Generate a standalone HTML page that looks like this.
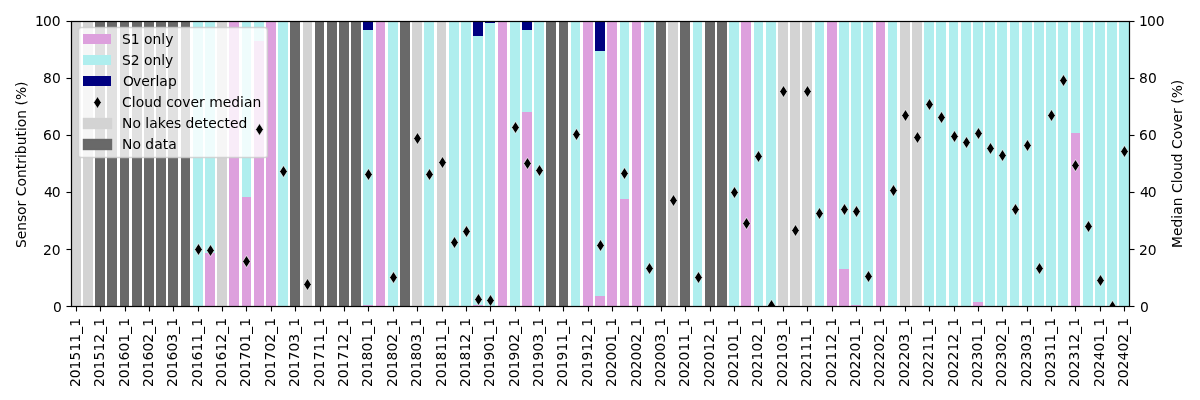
<!DOCTYPE html>
<html lang="en">
<head>
<meta charset="utf-8">
<title>Sensor contribution and cloud cover</title>
<style>
html,body{margin:0;padding:0;background:#fff;overflow:hidden}
svg{display:block}
text{white-space:pre}
</style>
</head>
<body>
<svg width="1200" height="400" viewBox="0 0 1200 400">
<rect width="1200" height="400" fill="#fff"/>
<g shape-rendering="crispEdges">
<rect x="205" y="253" width="10" height="53" fill="#dda0dd"/>
<rect x="229" y="21" width="10" height="285" fill="#dda0dd"/>
<rect x="242" y="197" width="9" height="109" fill="#dda0dd"/>
<rect x="254" y="41" width="10" height="265" fill="#dda0dd"/>
<rect x="266" y="21" width="10" height="285" fill="#dda0dd"/>
<rect x="363" y="305" width="10" height="1" fill="#dda0dd"/>
<rect x="376" y="21" width="9" height="285" fill="#dda0dd"/>
<rect x="473" y="305" width="10" height="1" fill="#dda0dd"/>
<rect x="498" y="21" width="9" height="285" fill="#dda0dd"/>
<rect x="522" y="112" width="10" height="194" fill="#dda0dd"/>
<rect x="583" y="21" width="10" height="285" fill="#dda0dd"/>
<rect x="595" y="296" width="10" height="10" fill="#dda0dd"/>
<rect x="607" y="21" width="10" height="285" fill="#dda0dd"/>
<rect x="620" y="199" width="9" height="107" fill="#dda0dd"/>
<rect x="632" y="21" width="9" height="285" fill="#dda0dd"/>
<rect x="741" y="21" width="10" height="285" fill="#dda0dd"/>
<rect x="827" y="21" width="10" height="285" fill="#dda0dd"/>
<rect x="839" y="269" width="10" height="37" fill="#dda0dd"/>
<rect x="851" y="305" width="10" height="1" fill="#dda0dd"/>
<rect x="876" y="21" width="9" height="285" fill="#dda0dd"/>
<rect x="973" y="302" width="10" height="4" fill="#dda0dd"/>
<rect x="1071" y="133" width="9" height="173" fill="#dda0dd"/>
<rect x="193" y="21" width="10" height="285" fill="#afeeee"/>
<rect x="205" y="21" width="10" height="232" fill="#afeeee"/>
<rect x="242" y="21" width="9" height="176" fill="#afeeee"/>
<rect x="254" y="21" width="10" height="20" fill="#afeeee"/>
<rect x="278" y="21" width="10" height="285" fill="#afeeee"/>
<rect x="363" y="30" width="10" height="275" fill="#afeeee"/>
<rect x="388" y="21" width="10" height="285" fill="#afeeee"/>
<rect x="424" y="21" width="10" height="285" fill="#afeeee"/>
<rect x="449" y="21" width="10" height="285" fill="#afeeee"/>
<rect x="461" y="21" width="10" height="285" fill="#afeeee"/>
<rect x="473" y="36" width="10" height="269" fill="#afeeee"/>
<rect x="485" y="23" width="10" height="283" fill="#afeeee"/>
<rect x="510" y="21" width="10" height="285" fill="#afeeee"/>
<rect x="522" y="30" width="10" height="82" fill="#afeeee"/>
<rect x="534" y="21" width="10" height="285" fill="#afeeee"/>
<rect x="571" y="21" width="9" height="285" fill="#afeeee"/>
<rect x="595" y="51" width="10" height="245" fill="#afeeee"/>
<rect x="620" y="21" width="9" height="178" fill="#afeeee"/>
<rect x="644" y="21" width="10" height="285" fill="#afeeee"/>
<rect x="693" y="21" width="9" height="285" fill="#afeeee"/>
<rect x="729" y="21" width="10" height="285" fill="#afeeee"/>
<rect x="754" y="21" width="9" height="285" fill="#afeeee"/>
<rect x="766" y="21" width="10" height="285" fill="#afeeee"/>
<rect x="815" y="21" width="9" height="285" fill="#afeeee"/>
<rect x="839" y="21" width="10" height="248" fill="#afeeee"/>
<rect x="851" y="21" width="10" height="284" fill="#afeeee"/>
<rect x="863" y="21" width="10" height="285" fill="#afeeee"/>
<rect x="888" y="21" width="9" height="285" fill="#afeeee"/>
<rect x="924" y="21" width="10" height="285" fill="#afeeee"/>
<rect x="936" y="21" width="10" height="285" fill="#afeeee"/>
<rect x="949" y="21" width="9" height="285" fill="#afeeee"/>
<rect x="961" y="21" width="10" height="285" fill="#afeeee"/>
<rect x="973" y="21" width="10" height="281" fill="#afeeee"/>
<rect x="985" y="21" width="10" height="285" fill="#afeeee"/>
<rect x="997" y="21" width="10" height="285" fill="#afeeee"/>
<rect x="1010" y="21" width="9" height="285" fill="#afeeee"/>
<rect x="1022" y="21" width="10" height="285" fill="#afeeee"/>
<rect x="1034" y="21" width="10" height="285" fill="#afeeee"/>
<rect x="1046" y="21" width="10" height="285" fill="#afeeee"/>
<rect x="1058" y="21" width="10" height="285" fill="#afeeee"/>
<rect x="1071" y="21" width="9" height="112" fill="#afeeee"/>
<rect x="1083" y="21" width="10" height="285" fill="#afeeee"/>
<rect x="1095" y="21" width="10" height="285" fill="#afeeee"/>
<rect x="1107" y="21" width="10" height="285" fill="#afeeee"/>
<rect x="1119" y="21" width="10" height="285" fill="#afeeee"/>
<rect x="363" y="21" width="10" height="9" fill="#000080"/>
<rect x="473" y="21" width="10" height="15" fill="#000080"/>
<rect x="485" y="21" width="10" height="2" fill="#000080"/>
<rect x="522" y="21" width="10" height="9" fill="#000080"/>
<rect x="595" y="21" width="10" height="30" fill="#000080"/>
<rect x="71" y="21" width="10" height="285" fill="#d3d3d3"/>
<rect x="83" y="21" width="10" height="285" fill="#d3d3d3"/>
<rect x="217" y="21" width="10" height="285" fill="#d3d3d3"/>
<rect x="303" y="21" width="9" height="285" fill="#d3d3d3"/>
<rect x="412" y="21" width="10" height="285" fill="#d3d3d3"/>
<rect x="437" y="21" width="9" height="285" fill="#d3d3d3"/>
<rect x="668" y="21" width="10" height="285" fill="#d3d3d3"/>
<rect x="778" y="21" width="10" height="285" fill="#d3d3d3"/>
<rect x="790" y="21" width="10" height="285" fill="#d3d3d3"/>
<rect x="802" y="21" width="10" height="285" fill="#d3d3d3"/>
<rect x="900" y="21" width="10" height="285" fill="#d3d3d3"/>
<rect x="912" y="21" width="10" height="285" fill="#d3d3d3"/>
<rect x="95" y="21" width="10" height="285" fill="#696969"/>
<rect x="107" y="21" width="10" height="285" fill="#696969"/>
<rect x="120" y="21" width="9" height="285" fill="#696969"/>
<rect x="132" y="21" width="10" height="285" fill="#696969"/>
<rect x="144" y="21" width="10" height="285" fill="#696969"/>
<rect x="156" y="21" width="10" height="285" fill="#696969"/>
<rect x="168" y="21" width="10" height="285" fill="#696969"/>
<rect x="181" y="21" width="9" height="285" fill="#696969"/>
<rect x="290" y="21" width="10" height="285" fill="#696969"/>
<rect x="315" y="21" width="9" height="285" fill="#696969"/>
<rect x="327" y="21" width="10" height="285" fill="#696969"/>
<rect x="339" y="21" width="10" height="285" fill="#696969"/>
<rect x="351" y="21" width="10" height="285" fill="#696969"/>
<rect x="400" y="21" width="10" height="285" fill="#696969"/>
<rect x="546" y="21" width="10" height="285" fill="#696969"/>
<rect x="559" y="21" width="9" height="285" fill="#696969"/>
<rect x="656" y="21" width="10" height="285" fill="#696969"/>
<rect x="680" y="21" width="10" height="285" fill="#696969"/>
<rect x="705" y="21" width="10" height="285" fill="#696969"/>
<rect x="717" y="21" width="10" height="285" fill="#696969"/>
</g>
<g stroke="#000" stroke-width="1.1111" fill="none">
<line x1="76.5" y1="306.5" x2="76.5" y2="311.5"/>
<line x1="100.5" y1="306.5" x2="100.5" y2="311.5"/>
<line x1="125.5" y1="306.5" x2="125.5" y2="311.5"/>
<line x1="149.5" y1="306.5" x2="149.5" y2="311.5"/>
<line x1="173.5" y1="306.5" x2="173.5" y2="311.5"/>
<line x1="198.5" y1="306.5" x2="198.5" y2="311.5"/>
<line x1="222.5" y1="306.5" x2="222.5" y2="311.5"/>
<line x1="246.5" y1="306.5" x2="246.5" y2="311.5"/>
<line x1="271.5" y1="306.5" x2="271.5" y2="311.5"/>
<line x1="295.5" y1="306.5" x2="295.5" y2="311.5"/>
<line x1="320.5" y1="306.5" x2="320.5" y2="311.5"/>
<line x1="344.5" y1="306.5" x2="344.5" y2="311.5"/>
<line x1="368.5" y1="306.5" x2="368.5" y2="311.5"/>
<line x1="393.5" y1="306.5" x2="393.5" y2="311.5"/>
<line x1="417.5" y1="306.5" x2="417.5" y2="311.5"/>
<line x1="442.5" y1="306.5" x2="442.5" y2="311.5"/>
<line x1="466.5" y1="306.5" x2="466.5" y2="311.5"/>
<line x1="490.5" y1="306.5" x2="490.5" y2="311.5"/>
<line x1="515.5" y1="306.5" x2="515.5" y2="311.5"/>
<line x1="539.5" y1="306.5" x2="539.5" y2="311.5"/>
<line x1="563.5" y1="306.5" x2="563.5" y2="311.5"/>
<line x1="588.5" y1="306.5" x2="588.5" y2="311.5"/>
<line x1="612.5" y1="306.5" x2="612.5" y2="311.5"/>
<line x1="637.5" y1="306.5" x2="637.5" y2="311.5"/>
<line x1="661.5" y1="306.5" x2="661.5" y2="311.5"/>
<line x1="685.5" y1="306.5" x2="685.5" y2="311.5"/>
<line x1="710.5" y1="306.5" x2="710.5" y2="311.5"/>
<line x1="734.5" y1="306.5" x2="734.5" y2="311.5"/>
<line x1="758.5" y1="306.5" x2="758.5" y2="311.5"/>
<line x1="783.5" y1="306.5" x2="783.5" y2="311.5"/>
<line x1="807.5" y1="306.5" x2="807.5" y2="311.5"/>
<line x1="832.5" y1="306.5" x2="832.5" y2="311.5"/>
<line x1="856.5" y1="306.5" x2="856.5" y2="311.5"/>
<line x1="880.5" y1="306.5" x2="880.5" y2="311.5"/>
<line x1="905.5" y1="306.5" x2="905.5" y2="311.5"/>
<line x1="929.5" y1="306.5" x2="929.5" y2="311.5"/>
<line x1="954.5" y1="306.5" x2="954.5" y2="311.5"/>
<line x1="978.5" y1="306.5" x2="978.5" y2="311.5"/>
<line x1="1002.5" y1="306.5" x2="1002.5" y2="311.5"/>
<line x1="1027.5" y1="306.5" x2="1027.5" y2="311.5"/>
<line x1="1051.5" y1="306.5" x2="1051.5" y2="311.5"/>
<line x1="1075.5" y1="306.5" x2="1075.5" y2="311.5"/>
<line x1="1100.5" y1="306.5" x2="1100.5" y2="311.5"/>
<line x1="1124.5" y1="306.5" x2="1124.5" y2="311.5"/>
<rect x="66.500" y="306" width="5.000" height="1" fill="#000" stroke="none"/><rect x="66.500" y="305" width="5.000" height="1" fill="#000" fill-opacity="0.0556" stroke="none"/><rect x="66.500" y="307" width="5.000" height="1" fill="#000" fill-opacity="0.0556" stroke="none"/>
<rect x="66.500" y="249" width="5.000" height="1" fill="#000" stroke="none"/><rect x="66.500" y="248" width="5.000" height="1" fill="#000" fill-opacity="0.0556" stroke="none"/><rect x="66.500" y="250" width="5.000" height="1" fill="#000" fill-opacity="0.0556" stroke="none"/>
<rect x="66.500" y="192" width="5.000" height="1" fill="#000" stroke="none"/><rect x="66.500" y="191" width="5.000" height="1" fill="#000" fill-opacity="0.0556" stroke="none"/><rect x="66.500" y="193" width="5.000" height="1" fill="#000" fill-opacity="0.0556" stroke="none"/>
<rect x="66.500" y="135" width="5.000" height="1" fill="#000" stroke="none"/><rect x="66.500" y="134" width="5.000" height="1" fill="#000" fill-opacity="0.0556" stroke="none"/><rect x="66.500" y="136" width="5.000" height="1" fill="#000" fill-opacity="0.0556" stroke="none"/>
<rect x="66.500" y="78" width="5.000" height="1" fill="#000" stroke="none"/><rect x="66.500" y="77" width="5.000" height="1" fill="#000" fill-opacity="0.0556" stroke="none"/><rect x="66.500" y="79" width="5.000" height="1" fill="#000" fill-opacity="0.0556" stroke="none"/>
<rect x="66.500" y="21" width="5.000" height="1" fill="#000" stroke="none"/><rect x="66.500" y="20" width="5.000" height="1" fill="#000" fill-opacity="0.0556" stroke="none"/><rect x="66.500" y="22" width="5.000" height="1" fill="#000" fill-opacity="0.0556" stroke="none"/>
</g>
<g font-family="'DejaVu Sans', 'Liberation Sans', sans-serif" fill="#000">
<text transform="translate(80.054 386) rotate(-90)" font-size="13.8889" x="-1.008 7.814 16.637 25.586 34.408 43.357 52.306 59.364">201511_1</text>
<text transform="translate(104.061 386) rotate(-90)" font-size="13.8889" x="-1.008 7.814 16.637 25.586 34.408 43.357 52.306 59.364">201512_1</text>
<text transform="translate(128.945 386) rotate(-90)" font-size="13.8889" x="-1.008 7.814 16.637 25.586 34.408 43.357 52.306 59.364">201601_1</text>
<text transform="translate(152.954 386) rotate(-90)" font-size="13.8889" x="-1.008 7.814 16.637 25.586 34.408 43.357 52.306 59.364">201602_1</text>
<text transform="translate(176.962 386) rotate(-90)" font-size="13.8889" x="-1.008 7.814 16.637 25.586 34.408 43.357 52.306 59.364">201603_1</text>
<text transform="translate(201.971 386) rotate(-90)" font-size="13.8889" x="-1.008 7.814 16.637 25.586 34.408 43.357 52.306 59.364">201611_1</text>
<text transform="translate(225.979 386) rotate(-90)" font-size="13.8889" x="-1.008 7.814 16.637 25.586 34.408 43.357 52.306 59.364">201612_1</text>
<text transform="translate(249.988 386) rotate(-90)" font-size="13.8889" x="-1.008 7.814 16.637 25.586 34.408 43.357 52.306 59.364">201701_1</text>
<text transform="translate(274.995 386) rotate(-90)" font-size="13.8889" x="-1.008 7.814 16.637 25.586 34.408 43.357 52.306 59.364">201702_1</text>
<text transform="translate(299.005 386) rotate(-90)" font-size="13.8889" x="-1.008 7.814 16.637 25.586 34.408 43.357 52.306 59.364">201703_1</text>
<text transform="translate(324.012 386) rotate(-90)" font-size="13.8889" x="-1.008 7.814 16.637 25.586 34.408 43.357 52.306 59.364">201711_1</text>
<text transform="translate(348.022 386) rotate(-90)" font-size="13.8889" x="-1.008 7.814 16.637 25.586 34.408 43.357 52.306 59.364">201712_1</text>
<text transform="translate(372.029 386) rotate(-90)" font-size="13.8889" x="-1.008 7.814 16.637 25.586 34.408 43.357 52.306 59.364">201801_1</text>
<text transform="translate(397.038 386) rotate(-90)" font-size="13.8889" x="-1.008 7.814 16.637 25.586 34.408 43.357 52.306 59.364">201802_1</text>
<text transform="translate(421.046 386) rotate(-90)" font-size="13.8889" x="-1.008 7.814 16.637 25.586 34.408 43.357 52.306 59.364">201803_1</text>
<text transform="translate(446.055 386) rotate(-90)" font-size="13.8889" x="-1.008 7.814 16.637 25.586 34.408 43.357 52.306 59.364">201811_1</text>
<text transform="translate(469.939 386) rotate(-90)" font-size="13.8889" x="-1.008 7.814 16.637 25.586 34.408 43.357 52.306 59.364">201812_1</text>
<text transform="translate(493.946 386) rotate(-90)" font-size="13.8889" x="-1.008 7.814 16.637 25.586 34.408 43.357 52.306 59.364">201901_1</text>
<text transform="translate(518.955 386) rotate(-90)" font-size="13.8889" x="-1.008 7.814 16.637 25.586 34.408 43.357 52.306 59.364">201902_1</text>
<text transform="translate(542.963 386) rotate(-90)" font-size="13.8889" x="-1.008 7.814 16.637 25.586 34.408 43.357 52.306 59.364">201903_1</text>
<text transform="translate(566.972 386) rotate(-90)" font-size="13.8889" x="-1.008 7.814 16.637 25.586 34.408 43.357 52.306 59.364">201911_1</text>
<text transform="translate(591.980 386) rotate(-90)" font-size="13.8889" x="-1.008 7.814 16.637 25.586 34.408 43.357 52.306 59.364">201912_1</text>
<text transform="translate(615.989 386) rotate(-90)" font-size="13.8889" x="-1.008 7.814 16.637 25.586 34.408 43.357 52.306 59.364">202001_1</text>
<text transform="translate(640.996 386) rotate(-90)" font-size="13.8889" x="-1.008 7.814 16.637 25.586 34.408 43.357 52.306 59.364">202002_1</text>
<text transform="translate(665.006 386) rotate(-90)" font-size="13.8889" x="-1.008 7.814 16.637 25.586 34.408 43.357 52.306 59.364">202003_1</text>
<text transform="translate(689.013 386) rotate(-90)" font-size="13.8889" x="-1.008 7.814 16.637 25.586 34.408 43.357 52.306 59.364">202011_1</text>
<text transform="translate(714.023 386) rotate(-90)" font-size="13.8889" x="-1.008 7.814 16.637 25.586 34.408 43.357 52.306 59.364">202012_1</text>
<text transform="translate(738.030 386) rotate(-90)" font-size="13.8889" x="-1.008 7.814 16.637 25.586 34.408 43.357 52.306 59.364">202101_1</text>
<text transform="translate(762.040 386) rotate(-90)" font-size="13.8889" x="-1.008 7.814 16.637 25.586 34.408 43.357 52.306 59.364">202102_1</text>
<text transform="translate(787.047 386) rotate(-90)" font-size="13.8889" x="-1.008 7.814 16.637 25.586 34.408 43.357 52.306 59.364">202103_1</text>
<text transform="translate(811.056 386) rotate(-90)" font-size="13.8889" x="-1.008 7.814 16.637 25.586 34.408 43.357 52.306 59.364">202111_1</text>
<text transform="translate(835.940 386) rotate(-90)" font-size="13.8889" x="-1.008 7.814 16.637 25.586 34.408 43.357 52.306 59.364">202112_1</text>
<text transform="translate(859.947 386) rotate(-90)" font-size="13.8889" x="-1.008 7.814 16.637 25.586 34.408 43.357 52.306 59.364">202201_1</text>
<text transform="translate(883.957 386) rotate(-90)" font-size="13.8889" x="-1.008 7.814 16.637 25.586 34.408 43.357 52.306 59.364">202202_1</text>
<text transform="translate(908.964 386) rotate(-90)" font-size="13.8889" x="-1.008 7.814 16.637 25.586 34.408 43.357 52.306 59.364">202203_1</text>
<text transform="translate(932.973 386) rotate(-90)" font-size="13.8889" x="-1.008 7.814 16.637 25.586 34.408 43.357 52.306 59.364">202211_1</text>
<text transform="translate(957.981 386) rotate(-90)" font-size="13.8889" x="-1.008 7.814 16.637 25.586 34.408 43.357 52.306 59.364">202212_1</text>
<text transform="translate(981.990 386) rotate(-90)" font-size="13.8889" x="-1.008 7.814 16.637 25.586 34.408 43.357 52.306 59.364">202301_1</text>
<text transform="translate(1005.998 386) rotate(-90)" font-size="13.8889" x="-1.008 7.814 16.637 25.586 34.408 43.357 52.306 59.364">202302_1</text>
<text transform="translate(1031.007 386) rotate(-90)" font-size="13.8889" x="-1.008 7.814 16.637 25.586 34.408 43.357 52.306 59.364">202303_1</text>
<text transform="translate(1055.014 386) rotate(-90)" font-size="13.8889" x="-1.008 7.814 16.637 25.586 34.408 43.357 52.306 59.364">202311_1</text>
<text transform="translate(1079.024 386) rotate(-90)" font-size="13.8889" x="-1.008 7.814 16.637 25.586 34.408 43.357 52.306 59.364">202312_1</text>
<text transform="translate(1104.031 386) rotate(-90)" font-size="13.8889" x="-1.008 7.814 16.637 25.586 34.408 43.357 52.306 59.364">202401_1</text>
<text transform="translate(1128.041 386) rotate(-90)" font-size="13.8889" x="-1.008 7.814 16.637 25.586 34.408 43.357 52.306 59.364">202402_1</text>
<text x="53.000" y="311.965" font-size="13.8889">0</text>
<text x="43.000 51.750" y="255.034" font-size="13.8889">20</text>
<text x="44.000 51.750" y="196.980" font-size="13.8889">40</text>
<text x="43.000 51.875" y="140.049" font-size="13.8889">60</text>
<text x="43.000 51.875" y="82.993" font-size="13.8889">80</text>
<text x="35.000 42.875 51.625" y="25.938" font-size="13.8889">100</text>
<text transform="translate(26.039 248) rotate(-90)" font-size="13.8889" x="0.000 8.750 17.250 26.000 33.125 41.625 47.375 51.750 61.500 70.000 78.750 84.250 90.000 93.875 102.750 111.500 117.000 120.875 129.375 138.125 142.500 148.000 161.125">Sensor Contribution (%)</text>
</g>
<g stroke="#000" stroke-width="1.1111" fill="none">
<line x1="71.5" y1="20.944444444444443" x2="71.5" y2="307.05555555555554"/>
<line x1="1129.5" y1="20.944444444444443" x2="1129.5" y2="307.05555555555554"/>
<rect x="70.944" y="21" width="1059.111" height="1" fill="#000" stroke="none"/><rect x="70.944" y="20" width="1059.111" height="1" fill="#000" fill-opacity="0.0556" stroke="none"/><rect x="70.944" y="22" width="1059.111" height="1" fill="#000" fill-opacity="0.0556" stroke="none"/>
<rect x="70.944" y="306" width="1059.111" height="1" fill="#000" stroke="none"/><rect x="70.944" y="305" width="1059.111" height="1" fill="#000" fill-opacity="0.0556" stroke="none"/><rect x="70.944" y="307" width="1059.111" height="1" fill="#000" fill-opacity="0.0556" stroke="none"/>
</g>
<path d="M81.5 157.5 L264.5 157.5 Q267.5 157.5 267.5 155.5 L267.5 30.5 Q267.5 27.5 264.5 27.5 L81.5 27.5 Q78.5 27.5 78.5 30.5 L78.5 155.5 Q78.5 157.5 81.5 157.5 Z" fill="#fff" stroke="#ccc" stroke-width="1.3889" fill-opacity="0.8" stroke-opacity="0.8" stroke-linejoin="miter"/>
<g shape-rendering="crispEdges">
<rect x="83" y="34" width="28" height="10" fill="#dda0dd"/>
<rect x="83" y="55" width="28" height="10" fill="#afeeee"/>
<rect x="83" y="76" width="28" height="10" fill="#000080"/>
<rect x="83.5" y="118.5" width="28" height="10" fill="#d3d3d3" stroke="#d3d3d3" stroke-width="1.3889" shape-rendering="auto"/>
<rect x="83.5" y="139.5" width="28" height="10" fill="#696969" stroke="#696969" stroke-width="1.3889" shape-rendering="auto"/>
</g>
<g font-family="'DejaVu Sans', 'Liberation Sans', sans-serif" fill="#000">
<text x="122.000 130.750 139.625 144.000 152.500 161.250 165.125" y="43.938" font-size="13.8889">S1 only</text>
<text x="122.000 130.750 139.500 143.875 152.375 161.125 165.000" y="65.006" font-size="13.8889">S2 only</text>
<text x="123.000 132.875 141.125 149.625 155.375 159.250 167.875" y="85.951" font-size="13.8889">Overlap</text>
<text x="122.000 131.750 135.625 144.125 152.875 161.750 166.125 173.750 182.250 190.500 199.000 204.750 209.125 222.625 231.125 240.000 243.875 252.500" y="107.021" font-size="13.8889">Cloud cover median</text>
<text x="122.000 132.375 140.875 145.250 149.125 157.750 165.375 173.875 181.000 185.375 194.250 202.750 208.250 216.750 224.375 229.875 238.375" y="127.966" font-size="13.8889">No lakes detected</text>
<text x="122.000 132.375 140.875 145.250 154.125 162.750 168.250" y="149.034" font-size="13.8889">No data</text>
</g>
<g fill="#000" stroke="#fff" stroke-width="0.6944" stroke-linejoin="miter">
<path d="M97.5 96.490L101.359 102.5L97.5 108.510L93.641 102.5Z"/>
</g>
<clipPath id="c"><rect x="70.880" y="20.500" width="1058.240" height="285.903"/></clipPath>
<g fill="#000" stroke="#fff" stroke-width="0.6944" stroke-linejoin="miter" clip-path="url(#c)">
<path d="M198.5 243.490L202.359 249.5L198.5 255.510L194.641 249.5Z"/>
<path d="M210.5 244.490L214.359 250.5L210.5 256.510L206.641 250.5Z"/>
<path d="M246.5 255.490L250.359 261.5L246.5 267.510L242.641 261.5Z"/>
<path d="M259.5 123.490L263.359 129.5L259.5 135.510L255.641 129.5Z"/>
<path d="M283.5 165.490L287.359 171.5L283.5 177.510L279.641 171.5Z"/>
<path d="M307.5 278.490L311.359 284.5L307.5 290.510L303.641 284.5Z"/>
<path d="M368.5 168.490L372.359 174.5L368.5 180.510L364.641 174.5Z"/>
<path d="M393.5 271.490L397.359 277.5L393.5 283.510L389.641 277.5Z"/>
<path d="M417.5 132.490L421.359 138.5L417.5 144.510L413.641 138.5Z"/>
<path d="M429.5 168.490L433.359 174.5L429.5 180.510L425.641 174.5Z"/>
<path d="M442.5 156.490L446.359 162.5L442.5 168.510L438.641 162.5Z"/>
<path d="M454.5 236.490L458.359 242.5L454.5 248.510L450.641 242.5Z"/>
<path d="M466.5 225.490L470.359 231.5L466.5 237.510L462.641 231.5Z"/>
<path d="M478.5 293.490L482.359 299.5L478.5 305.510L474.641 299.5Z"/>
<path d="M490.5 294.490L494.359 300.5L490.5 306.510L486.641 300.5Z"/>
<path d="M515.5 121.490L519.359 127.5L515.5 133.510L511.641 127.5Z"/>
<path d="M527.5 157.490L531.359 163.5L527.5 169.510L523.641 163.5Z"/>
<path d="M539.5 164.490L543.359 170.5L539.5 176.510L535.641 170.5Z"/>
<path d="M576.5 128.490L580.359 134.5L576.5 140.510L572.641 134.5Z"/>
<path d="M600.5 239.490L604.359 245.5L600.5 251.510L596.641 245.5Z"/>
<path d="M624.5 167.490L628.359 173.5L624.5 179.510L620.641 173.5Z"/>
<path d="M649.5 262.490L653.359 268.5L649.5 274.510L645.641 268.5Z"/>
<path d="M673.5 194.490L677.359 200.5L673.5 206.510L669.641 200.5Z"/>
<path d="M698.5 271.490L702.359 277.5L698.5 283.510L694.641 277.5Z"/>
<path d="M734.5 186.490L738.359 192.5L734.5 198.510L730.641 192.5Z"/>
<path d="M746.5 217.490L750.359 223.5L746.5 229.510L742.641 223.5Z"/>
<path d="M758.5 150.490L762.359 156.5L758.5 162.510L754.641 156.5Z"/>
<path d="M771.5 299.490L775.359 305.5L771.5 311.510L767.641 305.5Z"/>
<path d="M783.5 85.490L787.359 91.5L783.5 97.510L779.641 91.5Z"/>
<path d="M795.5 224.490L799.359 230.5L795.5 236.510L791.641 230.5Z"/>
<path d="M807.5 85.490L811.359 91.5L807.5 97.510L803.641 91.5Z"/>
<path d="M819.5 207.490L823.359 213.5L819.5 219.510L815.641 213.5Z"/>
<path d="M844.5 203.490L848.359 209.5L844.5 215.510L840.641 209.5Z"/>
<path d="M856.5 205.490L860.359 211.5L856.5 217.510L852.641 211.5Z"/>
<path d="M868.5 270.490L872.359 276.5L868.5 282.510L864.641 276.5Z"/>
<path d="M893.5 184.490L897.359 190.5L893.5 196.510L889.641 190.5Z"/>
<path d="M905.5 109.490L909.359 115.5L905.5 121.510L901.641 115.5Z"/>
<path d="M917.5 131.490L921.359 137.5L917.5 143.510L913.641 137.5Z"/>
<path d="M929.5 98.490L933.359 104.5L929.5 110.510L925.641 104.5Z"/>
<path d="M941.5 111.490L945.359 117.5L941.5 123.510L937.641 117.5Z"/>
<path d="M954.5 130.490L958.359 136.5L954.5 142.510L950.641 136.5Z"/>
<path d="M966.5 136.490L970.359 142.5L966.5 148.510L962.641 142.5Z"/>
<path d="M978.5 127.490L982.359 133.5L978.5 139.510L974.641 133.5Z"/>
<path d="M990.5 142.490L994.359 148.5L990.5 154.510L986.641 148.5Z"/>
<path d="M1002.5 149.490L1006.359 155.5L1002.5 161.510L998.641 155.5Z"/>
<path d="M1015.5 203.490L1019.359 209.5L1015.5 215.510L1011.641 209.5Z"/>
<path d="M1027.5 139.490L1031.359 145.5L1027.5 151.510L1023.641 145.5Z"/>
<path d="M1039.5 262.490L1043.359 268.5L1039.5 274.510L1035.641 268.5Z"/>
<path d="M1051.5 109.490L1055.359 115.5L1051.5 121.510L1047.641 115.5Z"/>
<path d="M1063.5 74.490L1067.359 80.5L1063.5 86.510L1059.641 80.5Z"/>
<path d="M1075.5 159.490L1079.359 165.5L1075.5 171.510L1071.641 165.5Z"/>
<path d="M1088.5 220.490L1092.359 226.5L1088.5 232.510L1084.641 226.5Z"/>
<path d="M1100.5 274.490L1104.359 280.5L1100.5 286.510L1096.641 280.5Z"/>
<path d="M1112.5 300.490L1116.359 306.5L1112.5 312.510L1108.641 306.5Z"/>
<path d="M1124.5 145.490L1128.359 151.5L1124.5 157.510L1120.641 151.5Z"/>
</g>
<g stroke="#000" stroke-width="1.1111" fill="none">
<rect x="1129.500" y="306" width="5.000" height="1" fill="#000" stroke="none"/><rect x="1129.500" y="305" width="5.000" height="1" fill="#000" fill-opacity="0.0556" stroke="none"/><rect x="1129.500" y="307" width="5.000" height="1" fill="#000" fill-opacity="0.0556" stroke="none"/>
<rect x="1129.500" y="249" width="5.000" height="1" fill="#000" stroke="none"/><rect x="1129.500" y="248" width="5.000" height="1" fill="#000" fill-opacity="0.0556" stroke="none"/><rect x="1129.500" y="250" width="5.000" height="1" fill="#000" fill-opacity="0.0556" stroke="none"/>
<rect x="1129.500" y="192" width="5.000" height="1" fill="#000" stroke="none"/><rect x="1129.500" y="191" width="5.000" height="1" fill="#000" fill-opacity="0.0556" stroke="none"/><rect x="1129.500" y="193" width="5.000" height="1" fill="#000" fill-opacity="0.0556" stroke="none"/>
<rect x="1129.500" y="135" width="5.000" height="1" fill="#000" stroke="none"/><rect x="1129.500" y="134" width="5.000" height="1" fill="#000" fill-opacity="0.0556" stroke="none"/><rect x="1129.500" y="136" width="5.000" height="1" fill="#000" fill-opacity="0.0556" stroke="none"/>
<rect x="1129.500" y="78" width="5.000" height="1" fill="#000" stroke="none"/><rect x="1129.500" y="77" width="5.000" height="1" fill="#000" fill-opacity="0.0556" stroke="none"/><rect x="1129.500" y="79" width="5.000" height="1" fill="#000" fill-opacity="0.0556" stroke="none"/>
<rect x="1129.500" y="21" width="5.000" height="1" fill="#000" stroke="none"/><rect x="1129.500" y="20" width="5.000" height="1" fill="#000" fill-opacity="0.0556" stroke="none"/><rect x="1129.500" y="22" width="5.000" height="1" fill="#000" fill-opacity="0.0556" stroke="none"/>
</g>
<g font-family="'DejaVu Sans', 'Liberation Sans', sans-serif" fill="#000">
<text x="1140.000" y="311.965" font-size="13.8889">0</text>
<text x="1139.000 1147.750" y="255.034" font-size="13.8889">20</text>
<text x="1140.000 1147.750" y="196.980" font-size="13.8889">40</text>
<text x="1139.000 1147.875" y="140.049" font-size="13.8889">60</text>
<text x="1139.000 1147.875" y="82.993" font-size="13.8889">80</text>
<text x="1139.000 1146.875 1155.625" y="25.938" font-size="13.8889">100</text>
<text transform="translate(1181.961 248) rotate(-90)" font-size="13.8889" x="0.000 12.000 20.500 29.375 33.250 41.875 50.625 55.000 64.750 68.625 77.125 85.875 94.750 99.125 108.875 117.375 125.625 134.125 139.875 144.250 149.750 162.875">Median Cloud Cover (%)</text>
</g>
<g stroke="#000" stroke-width="1.1111" fill="none">
<line x1="71.5" y1="20.944444444444443" x2="71.5" y2="307.05555555555554"/>
<line x1="1129.5" y1="20.944444444444443" x2="1129.5" y2="307.05555555555554"/>
<rect x="70.944" y="21" width="1059.111" height="1" fill="#000" stroke="none"/><rect x="70.944" y="20" width="1059.111" height="1" fill="#000" fill-opacity="0.0556" stroke="none"/><rect x="70.944" y="22" width="1059.111" height="1" fill="#000" fill-opacity="0.0556" stroke="none"/>
<rect x="70.944" y="306" width="1059.111" height="1" fill="#000" stroke="none"/><rect x="70.944" y="305" width="1059.111" height="1" fill="#000" fill-opacity="0.0556" stroke="none"/><rect x="70.944" y="307" width="1059.111" height="1" fill="#000" fill-opacity="0.0556" stroke="none"/>
</g>
</svg>
</body>
</html>
